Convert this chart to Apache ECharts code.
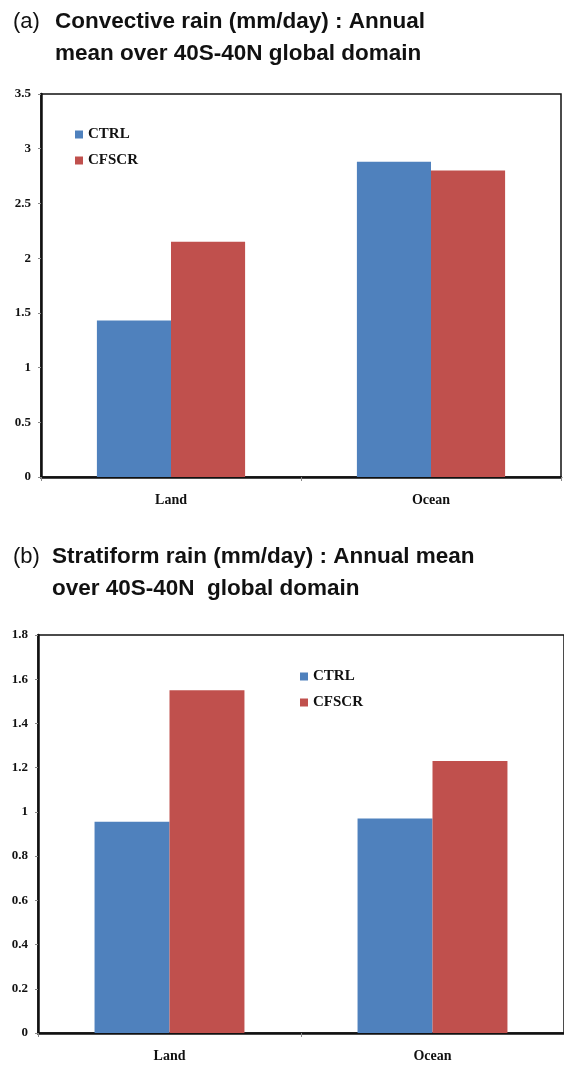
<!DOCTYPE html>
<html>
<head>
<meta charset="utf-8">
<script src="https://cdn.jsdelivr.net/npm/echarts@6/dist/echarts.min.js"></script>
<style>
  html, body { margin: 0; padding: 0; background: #fff; }
  #chart { width: 564px; height: 1065px; }
</style>
</head>
<body>
<div id="chart"></div>
<script>
// categories and values
var categories = ['Land', 'Ocean']
var seriesNames = ['CTRL', 'CFSCR']

var convCtrl = [1.43, 2.88]
var convCfscr = [2.15, 2.80]
var stratCtrl = [0.955, 0.97]
var stratCfscr = [1.55, 1.23]

var convTicks = { min: 0, max: 3.5, interval: 0.5 }
var stratTicks = { min: 0, max: 1.8, interval: 0.2 }

var blue = '#4F81BD'
var red = '#C0504D'
var serif = 'Liberation Serif'
var sans = 'Liberation Sans'

function xAxisOf(gridIndex) {
  return {
    type: 'category',
    gridIndex: gridIndex,
    data: categories,
    axisLine: { lineStyle: { color: '#111', width: 2.5 } },
    axisTick: { show: true, length: 4, lineStyle: { color: '#888' } },
    axisLabel: { color: '#111', fontFamily: serif, fontWeight: 'bold', fontSize: 14, margin: 16 }
  }
}

function yAxisOf(gridIndex, t) {
  return {
    type: 'value',
    gridIndex: gridIndex,
    min: t.min,
    max: t.max,
    interval: t.interval,
    splitLine: { show: false },
    axisLine: { show: true, lineStyle: { color: '#111', width: 2.5 } },
    axisTick: { show: true, length: 3, lineStyle: { color: '#888' } },
    axisLabel: { color: '#111', fontFamily: serif, fontWeight: 'bold', fontSize: 13, margin: 10 }
  }
}

function barOf(name, color, data, idx) {
  return {
    name: name,
    type: 'bar',
    xAxisIndex: idx,
    yAxisIndex: idx,
    data: data,
    barGap: '0%',
    barCategoryGap: '43%',
    itemStyle: { color: color }
  }
}

var titleStyle = { fontFamily: sans, fontWeight: 'bold', fontSize: 22.5, color: '#111', lineHeight: 32 }
var tagStyle = { fontFamily: sans, fontWeight: 'normal', fontSize: 22, color: '#111', lineHeight: 32 }
var legendText = { fontFamily: serif, fontWeight: 'bold', fontSize: 15, color: '#111' }

var chart = echarts.init(document.getElementById('chart'))
chart.setOption({
  backgroundColor: '#fff',
  animation: false,
  title: [
    { text: '(a)', left: 8, top: 1, textStyle: tagStyle },
    { text: 'Convective rain (mm/day) : Annual\nmean over 40S-40N global domain', left: 50, top: 1, textStyle: titleStyle },
    { text: '(b)', left: 8, top: 536, textStyle: tagStyle },
    { text: 'Stratiform rain (mm/day) : Annual mean\nover 40S-40N  global domain', left: 47, top: 536, textStyle: titleStyle }
  ],
  legend: [
    {
      orient: 'vertical', left: 75, top: 127, padding: 0,
      itemWidth: 8, itemHeight: 8, itemGap: 11,
      icon: 'rect', data: seriesNames, textStyle: legendText
    },
    {
      orient: 'vertical', left: 300, top: 669, padding: 0,
      itemWidth: 8, itemHeight: 8, itemGap: 11,
      icon: 'rect', data: seriesNames, textStyle: legendText
    }
  ],
  grid: [
    { left: 41, top: 94, width: 520, height: 383, show: true, borderColor: '#111', borderWidth: 1.5 },
    { left: 38, top: 635, width: 530, height: 398, show: true, borderColor: '#111', borderWidth: 1.5 }
  ],
  xAxis: [xAxisOf(0), xAxisOf(1)],
  yAxis: [yAxisOf(0, convTicks), yAxisOf(1, stratTicks)],
  series: [
    barOf(seriesNames[0], blue, convCtrl, 0),
    barOf(seriesNames[1], red, convCfscr, 0),
    barOf(seriesNames[0], blue, stratCtrl, 1),
    barOf(seriesNames[1], red, stratCfscr, 1)
  ]
})
</script>
</body>
</html>
